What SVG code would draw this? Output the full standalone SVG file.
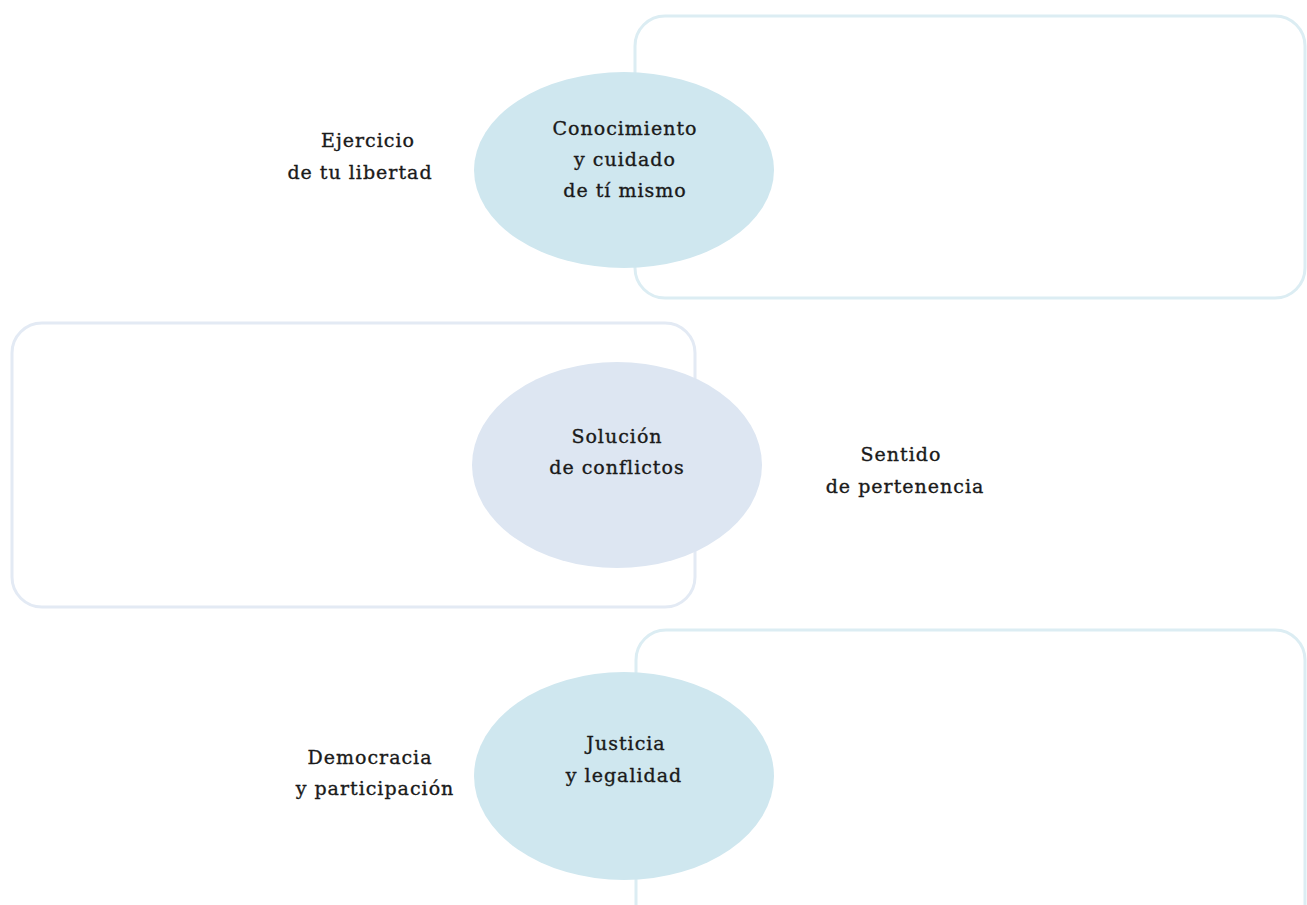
<svg xmlns="http://www.w3.org/2000/svg" width="1307" height="905" viewBox="0 0 1307 905">
<style>
.frame{fill:none;stroke-width:3}
.f1{stroke:#dcedf3}
.f2{stroke:#e3eaf4}
.e1{fill:#cfe7ef}
.e2{fill:#dde6f2}
text{font-family:"DejaVu Serif","Liberation Serif",serif;font-size:19px;fill:#1a1a1a;stroke:#1a1a1a;stroke-width:0.35px;text-anchor:middle;letter-spacing:1px}
</style>
<rect width="1307" height="905" fill="#ffffff"/>
<g id="frames">
<rect class="frame f1" x="635" y="16" width="670" height="282" rx="30"/>
<rect class="frame f2" x="12" y="323" width="683" height="284" rx="30"/>
<rect class="frame f1" x="636" y="630" width="669" height="310" rx="30"/>
</g>
<g id="node-conocimiento">
<ellipse class="e1" cx="624" cy="170" rx="150" ry="98"/>
<text x="625" y="135">Conocimiento</text>
<text x="625" y="166">y cuidado</text>
<text x="625" y="197">de tí mismo</text>
</g>
<g id="node-ejercicio">
<text x="368" y="147">Ejercicio</text>
<text x="360" y="179">de tu libertad</text>
</g>
<g id="node-solucion">
<ellipse class="e2" cx="617" cy="465" rx="145" ry="103"/>
<text x="617" y="443">Solución</text>
<text x="617" y="474">de conflictos</text>
</g>
<g id="node-sentido">
<text x="901" y="461">Sentido</text>
<text x="905" y="493">de pertenencia</text>
</g>
<g id="node-justicia">
<ellipse class="e1" cx="624" cy="776" rx="150" ry="104"/>
<text x="626" y="750">Justicia</text>
<text x="624" y="782">y legalidad</text>
</g>
<g id="node-democracia">
<text x="370" y="764">Democracia</text>
<text x="375" y="795">y participación</text>
</g>
<g id="connectors"></g>
</svg>
